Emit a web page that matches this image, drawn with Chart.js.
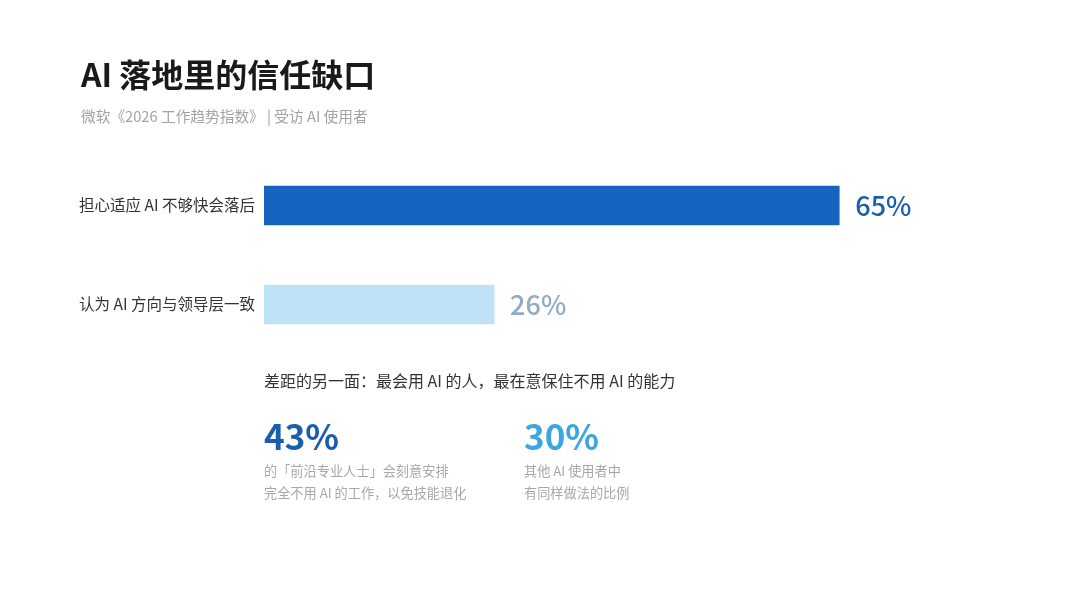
<!DOCTYPE html>
<html lang="zh">
<head>
<meta charset="UTF-8">
<title>AI 落地里的信任缺口</title>
<script src="https://cdn.jsdelivr.net/npm/chart.js@4"></script>
<style>
  html, body { margin: 0; padding: 0; background: #fff; }
  #wrap { position: relative; width: 1080px; height: 608px; }
</style>
</head>
<body>
<div id="wrap"><canvas id="gapChart" width="1080" height="608"></canvas></div>
<script>
  // data
  var categories = ["担心适应 AI 不够快会落后", "认为 AI 方向与领导层一致"];
  var shares = [65, 26];
  var barColours = ["#1565c0", "#bfe2f6"];
  var valueColours = ["#1a5fae", "#8eacc9"];

  var sideStats = ["43%", "30%"];
  var sideColours = ["#1a5fae", "#3ba7e2"];
  var sideNotes = [
    ["的「前沿专业人士」会刻意安排", "完全不用 AI 的工作，以免技能退化"],
    ["其他 AI 使用者中", "有同样做法的比例"]
  ];

  var FONT = '"Noto Sans CJK SC", "Noto Sans", sans-serif';

  // text around the chart + value labels
  var textPlugin = {
    id: 'textPlugin',
    afterDraw: function(chart) {
      var ctx = chart.ctx;
      ctx.save();
      ctx.textBaseline = 'middle';
      ctx.textAlign = 'left';

      ctx.fillStyle = '#1a1a1a';
      ctx.font = 'bold 32px ' + FONT;
      ctx.fillText('AI 落地里的信任缺口', 81, 75);

      ctx.fillStyle = '#a3a3a3';
      ctx.font = '14.7px ' + FONT;
      ctx.fillText('微软《2026 工作趋势指数》 | 受访 AI 使用者', 81, 116);

      // value labels at bar ends
      var meta = chart.getDatasetMeta(0);
      meta.data.forEach(function(bar, i) {
        ctx.fillStyle = valueColours[i];
        ctx.font = '500 27px ' + FONT;
        ctx.fillText(shares[i] + '%', bar.x + 16, bar.y);
      });

      ctx.fillStyle = '#333';
      ctx.font = '16px ' + FONT;
      ctx.fillText('差距的另一面：最会用 AI 的人，最在意保住不用 AI 的能力', 264, 381);

      var xs = [264, 524];
      for (var i = 0; i < sideStats.length; i++) {
        ctx.fillStyle = sideColours[i];
        ctx.font = '600 35px ' + FONT;
        ctx.fillText(sideStats[i], xs[i], 437);
        ctx.fillStyle = '#a8a8a8';
        ctx.font = '13.2px ' + FONT;
        ctx.fillText(sideNotes[i][0], xs[i], 471);
        ctx.fillText(sideNotes[i][1], xs[i], 493);
      }
      ctx.restore();
    }
  };

  var ctxGap = document.getElementById('gapChart').getContext('2d');
  var gapChart = new Chart(ctxGap, {
    type: 'bar',
    data: {
      labels: categories,
      datasets: [{
        data: shares,
        backgroundColor: barColours,
        borderWidth: 0,
        barThickness: 39
      }]
    },
    options: {
      indexAxis: 'y',
      responsive: false,
      animation: false,
      layout: { padding: { top: 156, bottom: 254, right: 108, left: 0 } },
      plugins: { legend: { display: false }, tooltip: { enabled: false } },
      scales: {
        x: { display: false, min: 0, max: 80 },
        y: {
          grid: { display: false, drawTicks: false },
          border: { display: false },
          ticks: { color: '#333', font: { family: FONT, size: 15.5 }, padding: 9 },
          afterFit: function(scale) { scale.width = 264; }
        }
      }
    },
    plugins: [textPlugin]
  });
</script>
</body>
</html>
